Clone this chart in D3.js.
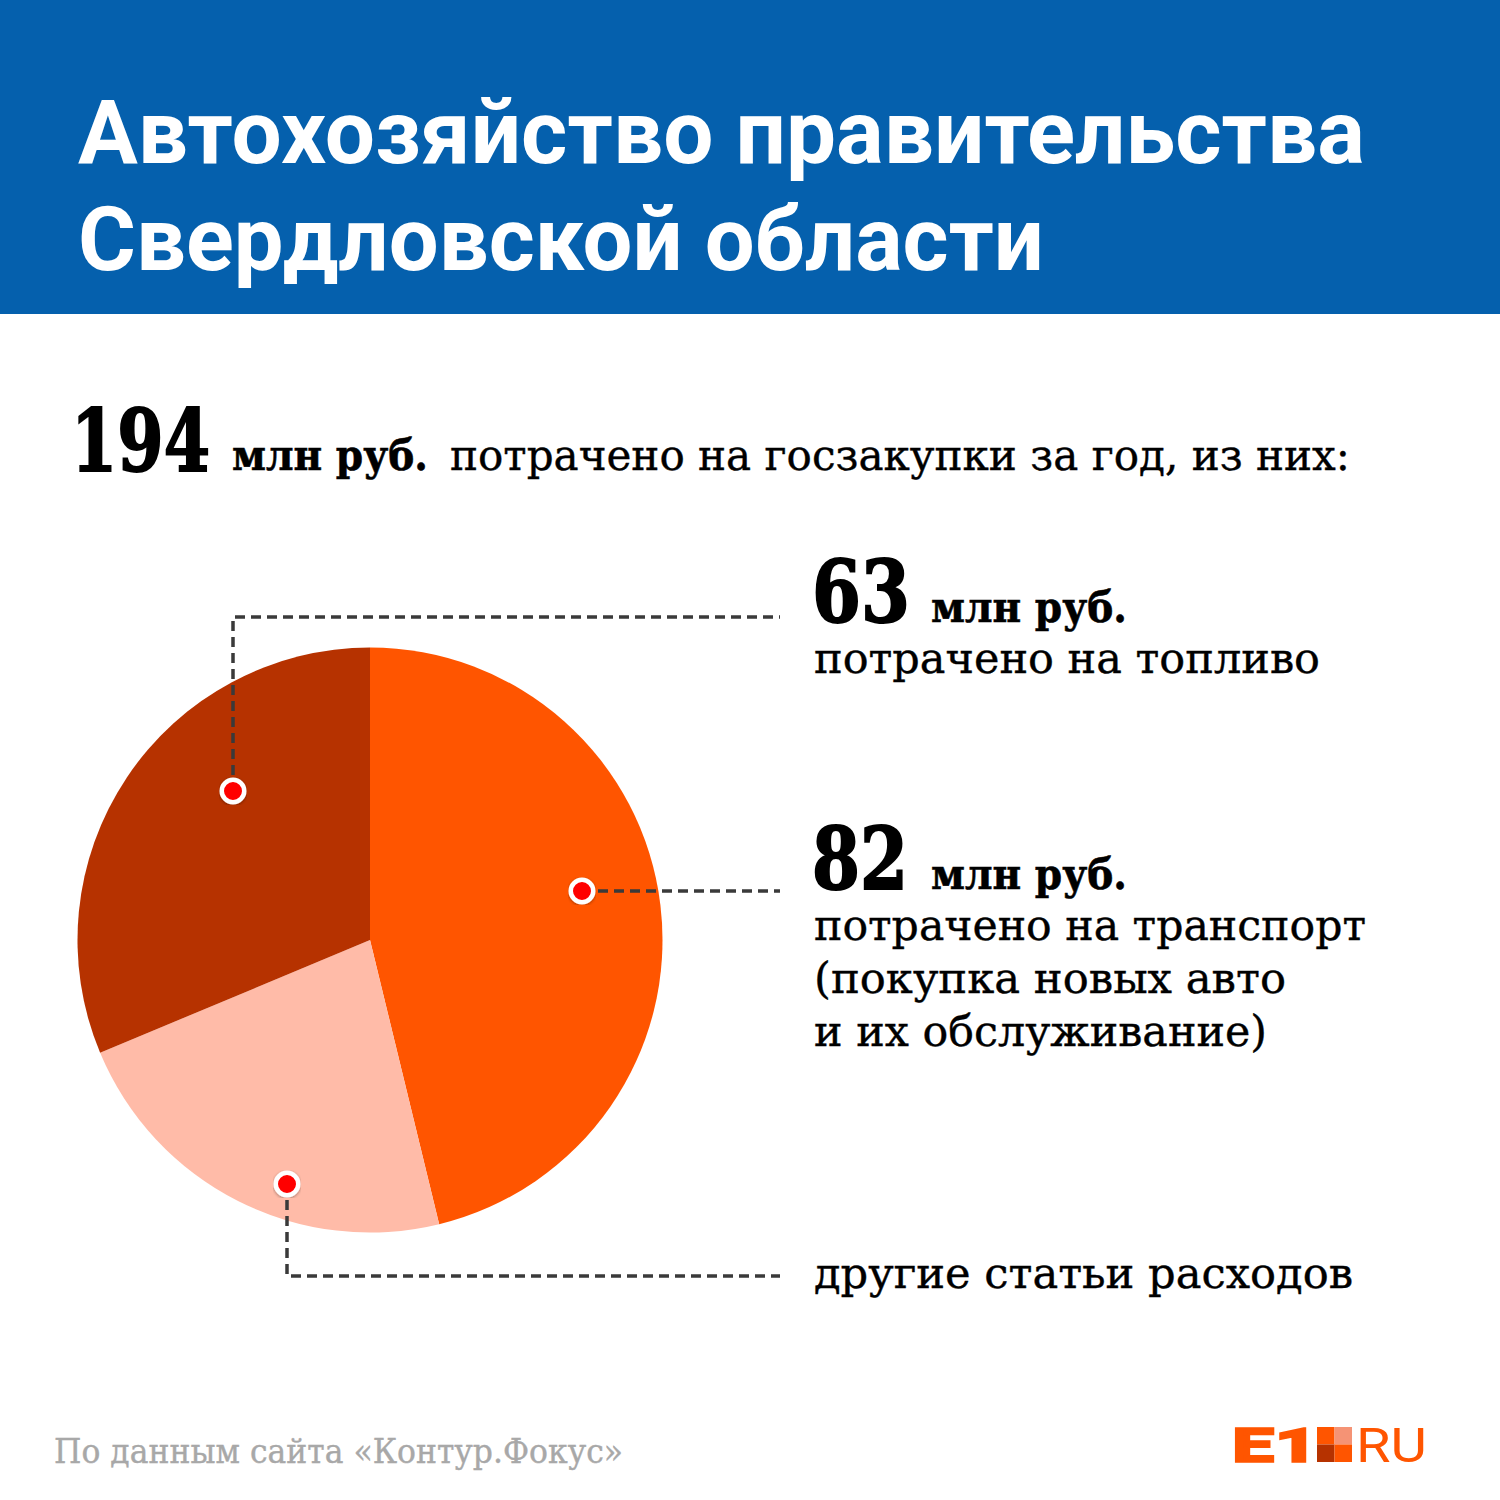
<!DOCTYPE html>
<html>
<head>
<meta charset="utf-8">
<script src="https://cdn.jsdelivr.net/npm/d3@7"></script>
<style>
  body { margin: 0; background: #fff; }
  svg { display: block; }
  .title { font-family: Roboto, sans-serif; font-weight: 700; fill: #fff; }
  .slab { font-family: "DejaVu Serif", serif; fill: #000; }
</style>
</head>
<body>
<div id="chart"></div>
<script>
// slices clockwise from the top, shares (percent)
const sliceNames = ["транспорт", "другие статьи расходов", "топливо"];
const sliceShares = [46.2, 22.5, 31.3];
const sliceColors = ["#ff5500", "#ffbba8", "#b63200"];

const titleLines = ["Автохозяйство правительства", "Свердловской области"];
const titleWidths = [1287, 966];
const footer = "По данным сайта «Контур.Фокус»";

const width = 1500;
const height = 1500;
const cx = 370;
const cy = 940;
const radius = 292.5;

const svg = d3.select("#chart").append("svg")
  .attr("width", width)
  .attr("height", height);

const defs = svg.append("defs");
const shadow = defs.append("filter").attr("id", "dotShadow");
shadow.append("feDropShadow")
  .attr("dx", 0).attr("dy", 1).attr("stdDeviation", 1.5)
  .attr("flood-color", "#000").attr("flood-opacity", 0.35);

// header
svg.append("rect").attr("width", width).attr("height", 314).attr("fill", "#0560ad");
svg.selectAll(".title").data(titleLines).enter().append("text")
  .attr("class", "title")
  .attr("x", 78)
  .attr("y", (d, i) => 163 + i * 107)
  .attr("font-size", 89)
  .attr("textLength", (d, i) => titleWidths[i])
  .attr("lengthAdjust", "spacingAndGlyphs")
  .text(d => d);

// text helper, squeezes each run to the measured width
function slab(text, x, y, size, weight, w, color, thick) {
  const c = color || "#000";
  svg.append("text")
    .attr("class", "slab")
    .attr("x", x).attr("y", y)
    .attr("font-size", size)
    .attr("font-weight", weight)
    .attr("textLength", w)
    .attr("lengthAdjust", "spacingAndGlyphs")
    .attr("stroke", c)
    .attr("stroke-width", thick || 0.4)
    .style("fill", c)
    .text(text);
}

slab("194", 71, 471, 86, 700, 139, null, 2);
slab("млн руб.", 232, 470, 43, 700, 196, null, 0.6);
slab("потрачено на госзакупки за год, из них:", 450, 470, 43, 400, 900);

// pie
const pie = d3.pie().sort(null).value(d => d)(sliceShares);
const arc = d3.arc().innerRadius(0).outerRadius(radius);
svg.append("g")
  .attr("transform", `translate(${cx},${cy})`)
  .selectAll("path").data(pie).enter().append("path")
  .attr("d", arc)
  .attr("fill", (d, i) => sliceColors[i]);

// leaders
const line = d3.line();
const leaders = [
  { pts: [[233, 791], [233, 617], [780, 617]] },
  { pts: [[582, 891], [780, 891]] },
  { pts: [[287, 1184], [287, 1276], [780, 1276]] }
];
svg.selectAll(".leader").data(leaders).enter().append("path")
  .attr("class", "leader")
  .attr("d", d => line(d.pts))
  .attr("fill", "none")
  .attr("stroke", "#3a3a3a")
  .attr("stroke-width", 3.5)
  .attr("stroke-dasharray", "10 6");
svg.selectAll(".dot").data(leaders).enter().append("circle")
  .attr("class", "dot")
  .attr("cx", d => d.pts[0][0])
  .attr("cy", d => d.pts[0][1])
  .attr("r", 11.25)
  .attr("fill", "#f00")
  .attr("stroke", "#fff")
  .attr("stroke-width", 4.5)
  .attr("filter", "url(#dotShadow)");

// labels on the right
slab("63", 812, 622, 86, 700, 98, null, 2);
slab("млн руб.", 931, 622, 43, 700, 196, null, 0.6);
slab("потрачено на топливо", 814, 673, 43, 400, 506);

slab("82", 812, 889, 86, 700, 96, null, 2);
slab("млн руб.", 931, 889, 43, 700, 196, null, 0.6);
slab("потрачено на транспорт", 814, 940, 43, 400, 552);
slab("(покупка новых авто", 814, 993, 43, 400, 472);
slab("и их обслуживание)", 814, 1046, 43, 400, 453);

slab("другие статьи расходов", 814, 1288, 43, 400, 539);

slab(footer, 54, 1463, 33, 400, 569, "#a8a8a8");

// logo
const logo = svg.append("g");
logo.append("text")
  .attr("x", 1232).attr("y", 1462)
  .attr("font-family", "Roboto, sans-serif")
  .attr("font-weight", 900)
  .attr("font-size", 49)
  .attr("textLength", 86)
  .attr("lengthAdjust", "spacingAndGlyphs")
  .attr("fill", "#ff5500")
  .attr("stroke", "#ff5500")
  .attr("stroke-width", 1.5)
  .text("E1");
logo.append("text")
  .attr("x", 1356).attr("y", 1462)
  .attr("font-family", "Roboto, sans-serif")
  .attr("font-weight", 400)
  .attr("font-size", 49)
  .attr("textLength", 71)
  .attr("lengthAdjust", "spacingAndGlyphs")
  .attr("fill", "#ff5500")
  .text("RU");
const squares = [[0, 0, "#ff5500"], [1, 0, "#f59375"], [0, 1, "#b63200"], [1, 1, "#ff5500"]];
logo.selectAll("rect").data(squares).enter().append("rect")
  .attr("x", d => 1317 + d[0] * 17.5)
  .attr("y", d => 1427 + d[1] * 17.5)
  .attr("width", 17.5)
  .attr("height", 17.5)
  .attr("fill", d => d[2]);
</script>
</body>
</html>
